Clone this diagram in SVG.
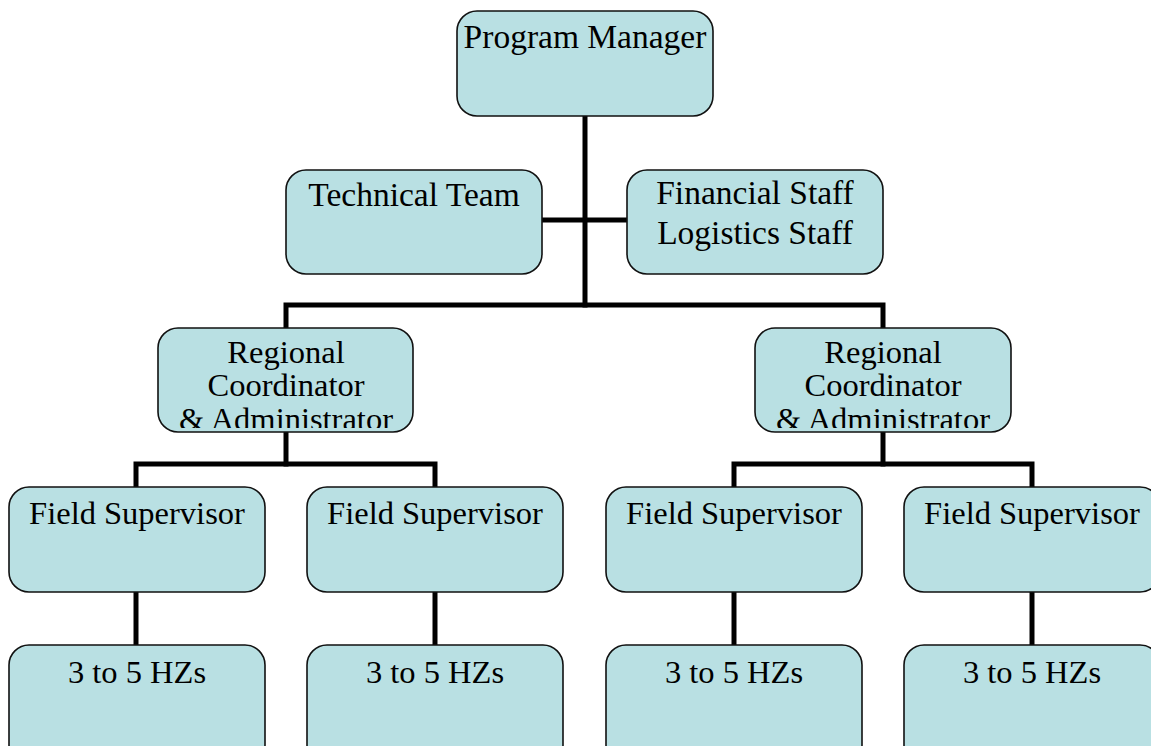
<svg xmlns="http://www.w3.org/2000/svg" width="1151" height="746" viewBox="0 0 1151 746">
  <style>
    .box { fill: #b9e0e3; stroke: #111; stroke-width: 1.6; }
    .lbl { font-family: "Liberation Serif", "Times New Roman", serif; font-size: 33.5px; fill: #000; text-anchor: middle; }
    .sm { font-size: 32.5px; }
    .wire { fill: none; stroke: #000; stroke-width: 5; stroke-linecap: square; }
  </style>
  <defs>
    <!-- the last label line runs past the box edge and is cut off -->
    <clipPath id="clipRc1"><rect x="158" y="328" width="255" height="100" rx="20"/></clipPath>
    <clipPath id="clipRc2"><rect x="755" y="328" width="256" height="100" rx="20"/></clipPath>
  </defs>
  <rect width="1151" height="746" fill="#fff"/>

  <!-- connectors -->
  <g id="connectors">
    <path class="wire" d="M585 116 V305"/>
    <path class="wire" d="M542 220 H627"/>
    <path class="wire" d="M286 328 V305 H883 V328"/>
    <path class="wire" d="M286 432 V464"/>
    <path class="wire" d="M136 487 V464 H435 V487"/>
    <path class="wire" d="M883 432 V464"/>
    <path class="wire" d="M734 487 V464 H1032 V487"/>
    <path class="wire" d="M136 592 V645"/>
    <path class="wire" d="M435 592 V645"/>
    <path class="wire" d="M734 592 V645"/>
    <path class="wire" d="M1032 592 V645"/>
  </g>

  <g id="program-manager">
    <rect class="box" x="457" y="11" width="256" height="105" rx="20"/>
    <text class="lbl" x="585" y="48">Program Manager</text>
  </g>

  <g id="technical-team">
    <rect class="box" x="286" y="170" width="256" height="104" rx="20"/>
    <text class="lbl" x="414" y="206">Technical Team</text>
  </g>

  <g id="financial-logistics">
    <rect class="box" x="627" y="170" width="256" height="104" rx="20"/>
    <text class="lbl" x="755" y="204">Financial Staff</text>
    <text class="lbl" x="755" y="244">Logistics Staff</text>
  </g>

  <g id="regional-1">
    <rect class="box" x="158" y="328" width="255" height="104" rx="20"/>
    <g clip-path="url(#clipRc1)">
      <text class="lbl sm" x="286" y="363">Regional</text>
      <text class="lbl sm" x="286" y="396">Coordinator</text>
      <text class="lbl sm" x="286" y="430">&amp; Administrator</text>
    </g>
  </g>

  <g id="regional-2">
    <rect class="box" x="755" y="328" width="256" height="104" rx="20"/>
    <g clip-path="url(#clipRc2)">
      <text class="lbl sm" x="883" y="363">Regional</text>
      <text class="lbl sm" x="883" y="396">Coordinator</text>
      <text class="lbl sm" x="883" y="430">&amp; Administrator</text>
    </g>
  </g>

  <g id="field-supervisor-1">
    <rect class="box" x="9" y="487" width="256" height="105" rx="20"/>
    <text class="lbl sm" x="137" y="524">Field Supervisor</text>
  </g>
  <g id="field-supervisor-2">
    <rect class="box" x="307" y="487" width="256" height="105" rx="20"/>
    <text class="lbl sm" x="435" y="524">Field Supervisor</text>
  </g>
  <g id="field-supervisor-3">
    <rect class="box" x="606" y="487" width="256" height="105" rx="20"/>
    <text class="lbl sm" x="734" y="524">Field Supervisor</text>
  </g>
  <g id="field-supervisor-4">
    <rect class="box" x="904" y="487" width="256" height="105" rx="20"/>
    <text class="lbl sm" x="1032" y="524">Field Supervisor</text>
  </g>

  <g id="hz-1">
    <rect class="box" x="9" y="645" width="256" height="120" rx="20"/>
    <text class="lbl sm" x="137" y="683">3 to 5 HZs</text>
  </g>
  <g id="hz-2">
    <rect class="box" x="307" y="645" width="256" height="120" rx="20"/>
    <text class="lbl sm" x="435" y="683">3 to 5 HZs</text>
  </g>
  <g id="hz-3">
    <rect class="box" x="606" y="645" width="256" height="120" rx="20"/>
    <text class="lbl sm" x="734" y="683">3 to 5 HZs</text>
  </g>
  <g id="hz-4">
    <rect class="box" x="904" y="645" width="256" height="120" rx="20"/>
    <text class="lbl sm" x="1032" y="683">3 to 5 HZs</text>
  </g>
</svg>
